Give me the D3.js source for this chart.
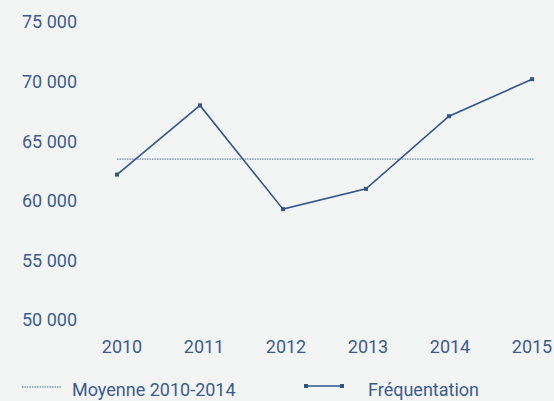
<!DOCTYPE html>
<html><head><meta charset="utf-8">
<script src="https://cdn.jsdelivr.net/npm/d3@7"></script>
<style>
html,body{margin:0;padding:0;background:#f3f4f4;}
text{font-family:Roboto,"DejaVu Sans",sans-serif;fill:#3d5c8c;}
</style></head>
<body>
<svg id="c" width="554" height="401"></svg>
<script>
const years = [2010, 2011, 2012, 2013, 2014, 2015];
const frequentation = [62200, 68000, 59300, 61000, 67100, 70200];
const moyenne = 63500;
const yTicks = [50000, 55000, 60000, 65000, 70000, 75000];
const legendLabels = ["Moyenne 2010-2014", "Fréquentation"];

const svg = d3.select("#c");
const lineColor = "#30558a";
const x = d3.scalePoint().domain(years).range([117, 532]);
const xLab = d3.scalePoint().domain(years).range([122, 532]);
const y = d3.scaleLinear().domain([50000, 75000]).range([320, 22]);
const fmt = d => d3.format(",")(d).replace(/,/g, " ");
const fs = 18;

// y labels
svg.append("g").selectAll("text").data(yTicks).join("text")
  .attr("x", 77).attr("y", d => y(d)).attr("dy", "0.36em")
  .attr("text-anchor", "end").attr("font-size", fs).text(fmt);

// x labels
svg.append("g").selectAll("text").data(years).join("text")
  .attr("x", d => xLab(d)).attr("y", 353)
  .attr("text-anchor", "middle").attr("font-size", fs).text(d => d);

// mean line
svg.append("line")
  .attr("x1", x(2010)).attr("x2", x(2015) + 2)
  .attr("y1", y(moyenne)).attr("y2", y(moyenne))
  .attr("stroke", "#4d6c9a").attr("stroke-width", 1).attr("stroke-dasharray", "1.5,1");

// series line
const data = years.map((yr, i) => ({yr, v: frequentation[i]}));
svg.append("path").datum(data)
  .attr("fill", "none").attr("stroke", lineColor).attr("stroke-width", 1.6)
  .attr("d", d3.line().x(d => x(d.yr)).y(d => y(d.v)));
svg.append("g").selectAll("rect").data(data).join("rect")
  .attr("x", d => x(d.yr) - 2).attr("y", d => y(d.v) - 2)
  .attr("width", 4).attr("height", 4).attr("fill", lineColor);

// legend
const lg = svg.append("g");
lg.append("line").attr("x1", 22).attr("x2", 62).attr("y1", 387).attr("y2", 387)
  .attr("stroke", "#4d6c9a").attr("stroke-width", 1).attr("stroke-dasharray", "1.5,1");
lg.append("text").attr("x", 72).attr("y", 396).attr("font-size", fs).text(legendLabels[0]);
lg.append("line").attr("x1", 306).attr("x2", 342).attr("y1", 386).attr("y2", 386)
  .attr("stroke", lineColor).attr("stroke-width", 1.6);
[306, 342].forEach(px => lg.append("rect").attr("x", px - 2).attr("y", 384).attr("width", 4).attr("height", 4).attr("fill", lineColor));
lg.append("text").attr("x", 368).attr("y", 396).attr("font-size", fs).text(legendLabels[1]);
</script>
</body></html>
